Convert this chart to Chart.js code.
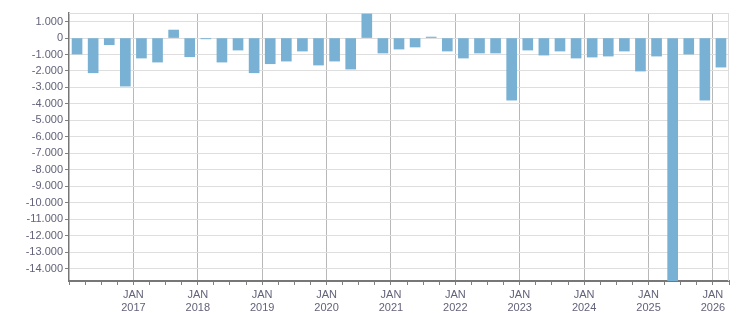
<!DOCTYPE html>
<html>
<head>
<meta charset="utf-8">
<script src="https://cdn.jsdelivr.net/npm/chart.js@4"></script>
<style>
  html, body { margin: 0; padding: 0; background: #fff; }
  #wrap { width: 751px; height: 313px; }
</style>
</head>
<body>
<div id="wrap"><canvas id="chart"></canvas></div>
<script>
// quarterly values, 2016 Q1 .. 2026 Q1
const quarters = [
    '2016 Q1', '2016 Q2', '2016 Q3', '2016 Q4',
    '2017 Q1', '2017 Q2', '2017 Q3', '2017 Q4',
    '2018 Q1', '2018 Q2', '2018 Q3', '2018 Q4',
    '2019 Q1', '2019 Q2', '2019 Q3', '2019 Q4',
    '2020 Q1', '2020 Q2', '2020 Q3', '2020 Q4',
    '2021 Q1', '2021 Q2', '2021 Q3', '2021 Q4',
    '2022 Q1', '2022 Q2', '2022 Q3', '2022 Q4',
    '2023 Q1', '2023 Q2', '2023 Q3', '2023 Q4',
    '2024 Q1', '2024 Q2', '2024 Q3', '2024 Q4',
    '2025 Q1', '2025 Q2', '2025 Q3', '2025 Q4',
    '2026 Q1'
];
const values = [
    -970, -2110, -405, -2920,
    -1215, -1460, 485, -1135,
    -50, -1460, -730, -2110,
    -1560, -1400, -790, -1640,
    -1400, -1885, 1460, -910,
    -670, -545, 60, -790,
    -1215, -910, -910, -3770,
    -730, -1035, -790, -1215,
    -1155, -1095, -790, -2005,
    -1095, -14750, -975, -3770,
    -1765
];
const tickYears = ['2016', '2017', '2018', '2019', '2020', '2021', '2022', '2023', '2024', '2025', '2026'];
const Y_MIN = -14750;
const Y_MAX = 1520;
const Y_STEP = 1000;

const FONT = { family: "'Liberation Sans', Arial, sans-serif", size: 11 };
const TEXT = '#62627a';

function fmt(v) {
    const s = String(Math.abs(v)).replace(/\B(?=(\d{3})+(?!\d))/g, '.');
    return (v < 0 ? '-' : '') + s;
}

// light frame on top and right of the plot
const framePlugin = {
    id: 'frame',
    beforeDatasetsDraw(chart) {
        const a = chart.chartArea;
        const ctx = chart.ctx;
        ctx.save();
        ctx.strokeStyle = '#dddddd';
        ctx.lineWidth = 1;
        ctx.beginPath();
        ctx.moveTo(a.left, a.top + 0.5);
        ctx.lineTo(a.right, a.top + 0.5);
        ctx.moveTo(a.right - 0.5, a.top);
        ctx.lineTo(a.right - 0.5, a.bottom);
        ctx.stroke();
        ctx.restore();
    }
};

const points = values.map((v, i) => ({ x: i + 0.5, y: v }));

new Chart(document.getElementById('chart'), {
    type: 'bar',
    data: {
        labels: quarters,
        datasets: [{
            label: 'value',
            data: points,
            backgroundColor: '#78b1d3',
            barThickness: 10,
            borderWidth: 0,
        }],
    },
    options: {
        responsive: true,
        maintainAspectRatio: false,
        animation: false,
        layout: { padding: { top: 13, right: 22, left: 0, bottom: 0 } },
        plugins: {
            legend: { display: false },
            tooltip: { enabled: false },
        },
        scales: {
            x: {
                type: 'linear',
                min: 0,
                max: quarters.length,
                offset: false,
                afterFit(scale) { scale.height = 32; },
                ticks: {
                    stepSize: 1,
                    autoSkip: false,
                    maxRotation: 0,
                    padding: 3,
                    color: TEXT,
                    font: FONT,
                    callback(v) {
                        if (v > 0 && v < quarters.length && v % 4 === 0) {
                            return ['JAN', tickYears[v / 4]];
                        }
                        return '';
                    },
                },
                grid: {
                    offset: false,
                    drawTicks: true,
                    tickLength: 4,
                    tickColor: '#808080',
                    lineWidth: 1,
                    color(ctx) {
                        const v = ctx.tick ? ctx.tick.value : -1;
                        if (v > 0 && v < quarters.length && v % 4 === 0) return '#b8b8b8';
                        return 'rgba(0,0,0,0)';
                    },
                },
                border: { color: '#777777', width: 2 },
            },
            y: {
                min: Y_MIN,
                max: Y_MAX,
                afterFit(scale) { scale.width = 69; },
                afterBuildTicks(scale) {
                    const ticks = [];
                    for (let v = Math.ceil(Y_MIN / Y_STEP) * Y_STEP; v <= Y_MAX; v += Y_STEP) {
                        ticks.push({ value: v });
                    }
                    scale.ticks = ticks;
                },
                ticks: {
                    padding: 2,
                    color: TEXT,
                    font: FONT,
                    callback: v => fmt(v),
                },
                grid: {
                    color: '#dedede',
                    lineWidth: 1,
                    tickLength: 4,
                    tickColor: '#808080',
                },
                border: { color: '#777777', width: 1.5 },
            },
        },
    },
    plugins: [framePlugin],
});
</script>
</body>
</html>
